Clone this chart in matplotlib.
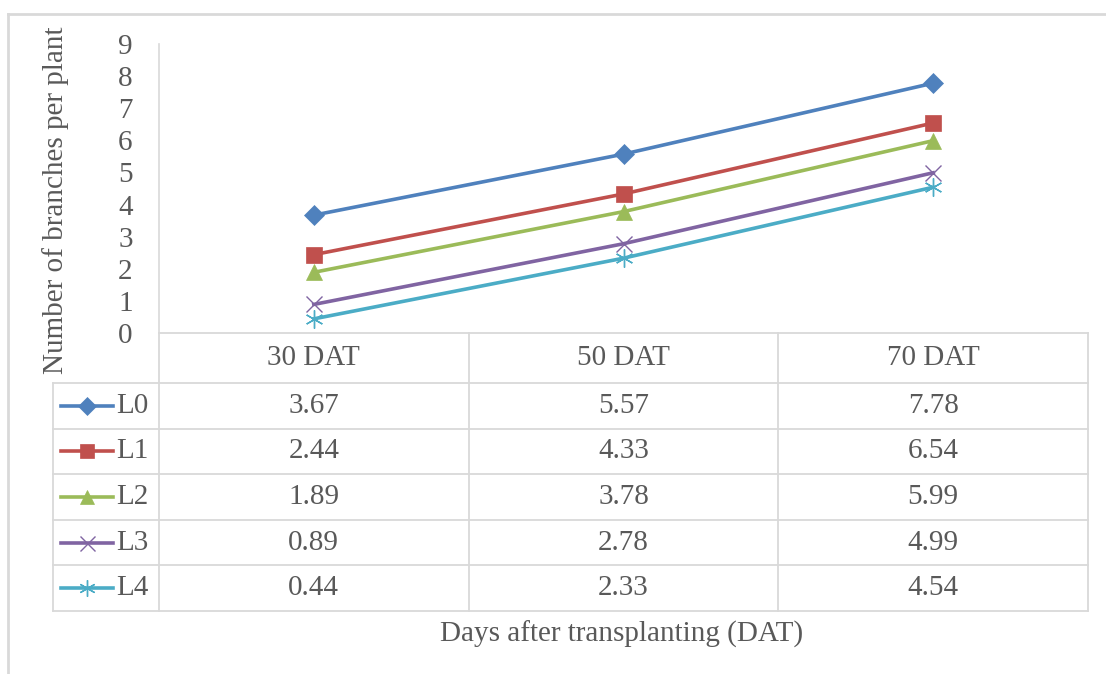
import matplotlib
matplotlib.use('Agg')
from matplotlib import pyplot as plt

# data
days = ['30 DAT', '50 DAT', '70 DAT']
series_names = ['L0', 'L1', 'L2', 'L3', 'L4']
l0 = [3.67, 5.57, 7.78]
l1 = [2.44, 4.33, 6.54]
l2 = [1.89, 3.78, 5.99]
l3 = [0.89, 2.78, 4.99]
l4 = [0.44, 2.33, 4.54]
y_ticks = list(range(0, 10))

series = [l0, l1, l2, l3, l4]
colors = ['#4F81BD', '#C0504D', '#9BBB59', '#8064A2', '#4BACC6']
markers = ['D', 's', '^', 'x', (6, 2, 0)]
msizes = [10, 11, 11, 12, 13]

TXT = '#595959'
GRID = '#D9D9D9'
FONT = 'Liberation Serif'
FS = 21

W, H = 1106, 674
plt.rcParams['font.family'] = FONT

fig = plt.figure(figsize=(W / 100, H / 100), dpi=100)

# layout in pixels (top-left origin)
px_left, px_right = 159, 1088
px_top, px_zero = 44, 333
tab_left, head_bottom, tab_bottom = 53, 383, 611


def fx(x):
    return x / W


def fy(y):
    return 1 - y / H


ax = fig.add_axes([fx(px_left), fy(px_zero), fx(px_right - px_left), (px_zero - px_top) / H])
xs = list(range(len(days)))
for vals, c, m, ms in zip(series, colors, markers, msizes):
    thin = m in ('x', (6, 2, 0))
    ax.plot(xs, vals, color=c, lw=2.6, marker=m, ms=ms, mec=c, mfc=c,
            mew=1.0 if thin else 0.5, zorder=3)
ax.set_xlim(-0.5, len(days) - 0.5)
ax.set_ylim(0, 9)
ax.set_yticks(y_ticks)
ax.set_yticklabels([str(t) for t in y_ticks])
ax.set_xticks([])
ax.tick_params(axis='y', length=0, labelsize=FS, labelcolor=TXT, pad=19)
for s in ['top', 'right', 'bottom']:
    ax.spines[s].set_visible(False)
ax.spines['left'].set_color(GRID)
ax.spines['left'].set_linewidth(1.2)
ax.patch.set_alpha(0)

# data table underneath
tx = fig.add_axes([0, 0, 1, 1])
tx.set_xlim(0, W)
tx.set_ylim(H, 0)
tx.axis('off')
tx.patch.set_alpha(0)

col_w = (px_right - px_left) / len(days)
col_edges = [px_left + i * col_w for i in range(len(days) + 1)]
row_h = (tab_bottom - head_bottom) / len(series_names)
row_edges = [head_bottom + i * row_h for i in range(len(series_names) + 1)]

lk = dict(color=GRID, lw=1.3, zorder=1)
tx.plot([px_left, px_right], [px_zero, px_zero], **lk)
for e in row_edges:
    tx.plot([tab_left, px_right], [e, e], **lk)
tx.plot([tab_left, tab_left], [head_bottom, tab_bottom], **lk)
tx.plot([px_left, px_left], [px_zero, tab_bottom], **lk)
for e in col_edges[1:]:
    tx.plot([e, e], [px_zero, tab_bottom], **lk)

for i, d in enumerate(days):
    cx = (col_edges[i] + col_edges[i + 1]) / 2
    tx.text(cx, (px_zero + head_bottom) / 2, d, ha='center', va='center',
            fontsize=FS, color=TXT)

for r, (name, vals, c, m, ms) in enumerate(zip(series_names, series, colors, markers, msizes)):
    cy = (row_edges[r] + row_edges[r + 1]) / 2
    thin = m in ('x', (6, 2, 0))
    tx.plot([61, 113], [cy, cy], color=c, lw=2.6, zorder=3)
    tx.plot([87], [cy], color=c, marker=m, ms=ms * 0.9, mec=c, mfc=c,
            mew=1.0 if thin else 0.5, zorder=4)
    tx.text(116, cy, name, ha='left', va='center', fontsize=FS, color=TXT)
    for i, v in enumerate(vals):
        cx = (col_edges[i] + col_edges[i + 1]) / 2
        tx.text(cx, cy, f'{v:.2f}', ha='center', va='center', fontsize=FS, color=TXT)

# axis titles
tx.text(56, 200, 'Number of branches per plant', rotation=90, ha='center', va='center',
        fontsize=FS, color=TXT)
tx.text(622, 634, 'Days after transplanting (DAT)', ha='center',
        va='center', fontsize=FS, color=TXT)

# chart-area border (only left and top are visible in the crop)
tx.plot([8, 8], [14, H], color=GRID, lw=2, zorder=0)
tx.plot([8, W], [14, 14], color=GRID, lw=2, zorder=0)

fig.savefig('out.png', dpi=100)
